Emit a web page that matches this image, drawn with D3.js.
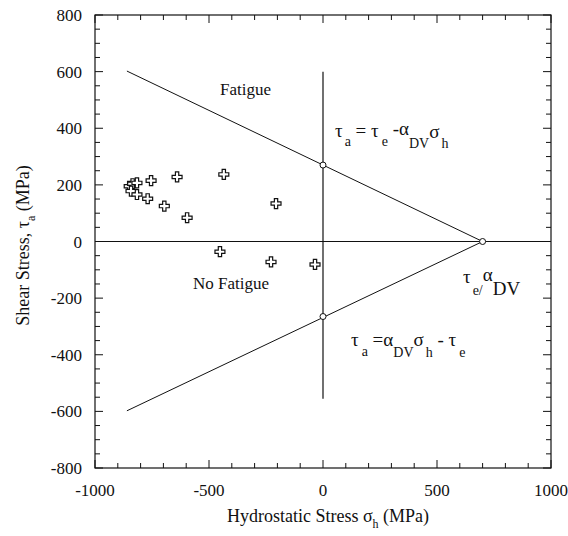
<!DOCTYPE html>
<html>
<head>
<meta charset="utf-8">
<script src="https://cdn.jsdelivr.net/npm/d3@7"></script>
<style>
  body { margin: 0; background: #fff; }
  text { font-family: "Liberation Serif", "DejaVu Serif", serif; fill: #111; }
</style>
</head>
<body>
<div id="chart"></div>
<script>
// data points (hydrostatic stress, shear stress) in MPa
var sigmaH = [-850, -835, -816, -842, -816, -754, -769, -640, -696, -596, -435, -206, -452, -228, -35];
var tauA   = [195, 204, 207, 178, 166, 215, 151, 228, 125, 84, 237, 134, -36, -72, -81];

// limit lines
var sigmaLimit = 700;
var lineStart = -860;
var upperLine = [[lineStart, 602], [sigmaLimit, 0]];
var lowerLine = [[lineStart, -598], [sigmaLimit, 0]];
var markerPts = [[0, 270], [0, -265], [sigmaLimit, 0]];
var axisVertical = [[0, 600], [0, -555]];

var xTicks = [-1000, -500, 0, 500, 1000];
var yTicks = [-800, -600, -400, -200, 0, 200, 400, 600, 800];

var width = 568, height = 536;
var pLeft = 95, pRight = 551, pTop = 15, pBottom = 468;

var svg = d3.select('#chart').append('svg')
    .attr('width', width)
    .attr('height', height);

var x = d3.scaleLinear().domain([-1000, 1000]).range([pLeft, pRight]);
var y = d3.scaleLinear().domain([-800, 800]).range([pBottom, pTop]);

// frame
svg.append('rect')
    .attr('x', pLeft).attr('y', pTop)
    .attr('width', pRight - pLeft).attr('height', pBottom - pTop)
    .attr('fill', 'none').attr('stroke', '#111').attr('stroke-width', 1.2);

// ticks, pointing inwards on every side
var ticks = svg.append('g').attr('stroke', '#111').attr('stroke-width', 1);
d3.range(-1000, 1001, 100).forEach(function (v) {
    var len = v % 500 == 0 ? 8 : 5;
    ticks.append('line').attr('x1', x(v)).attr('x2', x(v)).attr('y1', pBottom).attr('y2', pBottom - len);
    ticks.append('line').attr('x1', x(v)).attr('x2', x(v)).attr('y1', pTop).attr('y2', pTop + len);
});
d3.range(-800, 801, 50).forEach(function (v) {
    var len = v % 200 == 0 ? 8 : 5;
    ticks.append('line').attr('y1', y(v)).attr('y2', y(v)).attr('x1', pLeft).attr('x2', pLeft + len);
    ticks.append('line').attr('y1', y(v)).attr('y2', y(v)).attr('x1', pRight).attr('x2', pRight - len);
});

// tick labels
svg.append('g').selectAll('text').data(xTicks).join('text')
    .attr('x', function (d) { return x(d); })
    .attr('y', pBottom + 28)
    .attr('text-anchor', 'middle')
    .attr('font-size', 17)
    .text(function (d) { return d; });

svg.append('g').selectAll('text').data(yTicks).join('text')
    .attr('x', pLeft - 13)
    .attr('y', function (d) { return y(d) + 6; })
    .attr('text-anchor', 'end')
    .attr('font-size', 17)
    .text(function (d) { return d; });

// axis titles
var xt = svg.append('text')
    .attr('x', (pLeft + pRight) / 2 + 5)
    .attr('y', pBottom + 54)
    .attr('text-anchor', 'middle')
    .attr('font-size', 18);
xt.append('tspan').text('Hydrostatic Stress \u03c3');
xt.append('tspan').attr('font-size', 12).attr('dy', 6).text('h');
xt.append('tspan').attr('dy', -6).text(' (MPa)');

var yt = svg.append('text')
    .attr('transform', 'translate(29,' + ((pTop + pBottom) / 2 + 4) + ') rotate(-90)')
    .attr('text-anchor', 'middle')
    .attr('font-size', 18);
yt.append('tspan').text('Shear Stress, \u03c4');
yt.append('tspan').attr('font-size', 12).attr('dy', 6).text('a');
yt.append('tspan').attr('dy', -6).text(' (MPa)');

// zero lines
var line = d3.line().x(function (d) { return x(d[0]); }).y(function (d) { return y(d[1]); });
svg.append('path').attr('d', line([[-1000, 0], [1000, 0]]))
    .attr('stroke', '#111').attr('stroke-width', 1.2).attr('fill', 'none');
svg.append('path').attr('d', line(axisVertical))
    .attr('stroke', '#111').attr('stroke-width', 1.2).attr('fill', 'none');

// limit lines
[upperLine, lowerLine].forEach(function (l) {
    svg.append('path').attr('d', line(l))
        .attr('stroke', '#111').attr('stroke-width', 1).attr('fill', 'none');
});

svg.append('g').selectAll('circle').data(markerPts).join('circle')
    .attr('cx', function (d) { return x(d[0]); })
    .attr('cy', function (d) { return y(d[1]); })
    .attr('r', 3)
    .attr('fill', 'white').attr('stroke', '#111').attr('stroke-width', 1);

// data markers
var cross = d3.symbol().type(d3.symbolCross).size(55);
svg.append('g').selectAll('path').data(sigmaH).join('path')
    .attr('transform', function (d, i) { return 'translate(' + x(d) + ',' + y(tauA[i]) + ')'; })
    .attr('d', cross)
    .attr('fill', 'white').attr('stroke', '#111').attr('stroke-width', 1.2);

// region labels
svg.append('text').attr('x', 220).attr('y', 95).attr('font-size', 17).text('Fatigue');
svg.append('text').attr('x', 193).attr('y', 289).attr('font-size', 17).text('No Fatigue');

// equations
function eq(x0, y0, parts) {
    var t = svg.append('text').attr('x', x0).attr('y', y0).attr('font-size', 19);
    parts.forEach(function (p) {
        t.append('tspan')
            .attr('font-size', p.sub ? 14 : 19)
            .attr('dy', p.dy || 0)
            .attr('dx', p.dx || 0)
            .text(p.t);
    });
}
eq(335, 137, [
    { t: '\u03c4' }, { t: 'a', sub: true, dy: 9, dx: 2 },
    { t: ' = \u03c4', dy: -9 }, { t: 'e', sub: true, dy: 9, dx: 3 },
    { t: ' -\u03b1', dy: -11 }, { t: 'DV', sub: true, dy: 13 },
    { t: '\u03c3', dy: -10 }, { t: 'h', sub: true, dy: 10, dx: 2 }
]);
eq(463, 283, [
    { t: '\u03c4' }, { t: 'e/', sub: true, dy: 12, dx: 2 },
    { t: '\u03b1', dy: -14 }, { t: 'DV', dy: 14 }
]);
eq(351, 346, [
    { t: '\u03c4' }, { t: 'a', sub: true, dy: 10, dx: 3 },
    { t: ' =\u03b1', dy: -10 }, { t: 'DV', sub: true, dy: 11 },
    { t: '\u03c3', dy: -11 }, { t: 'h', sub: true, dy: 11, dx: 2 },
    { t: ' - \u03c4', dy: -11 }, { t: 'e', sub: true, dy: 11, dx: 3 }
]);
</script>
</body>
</html>
